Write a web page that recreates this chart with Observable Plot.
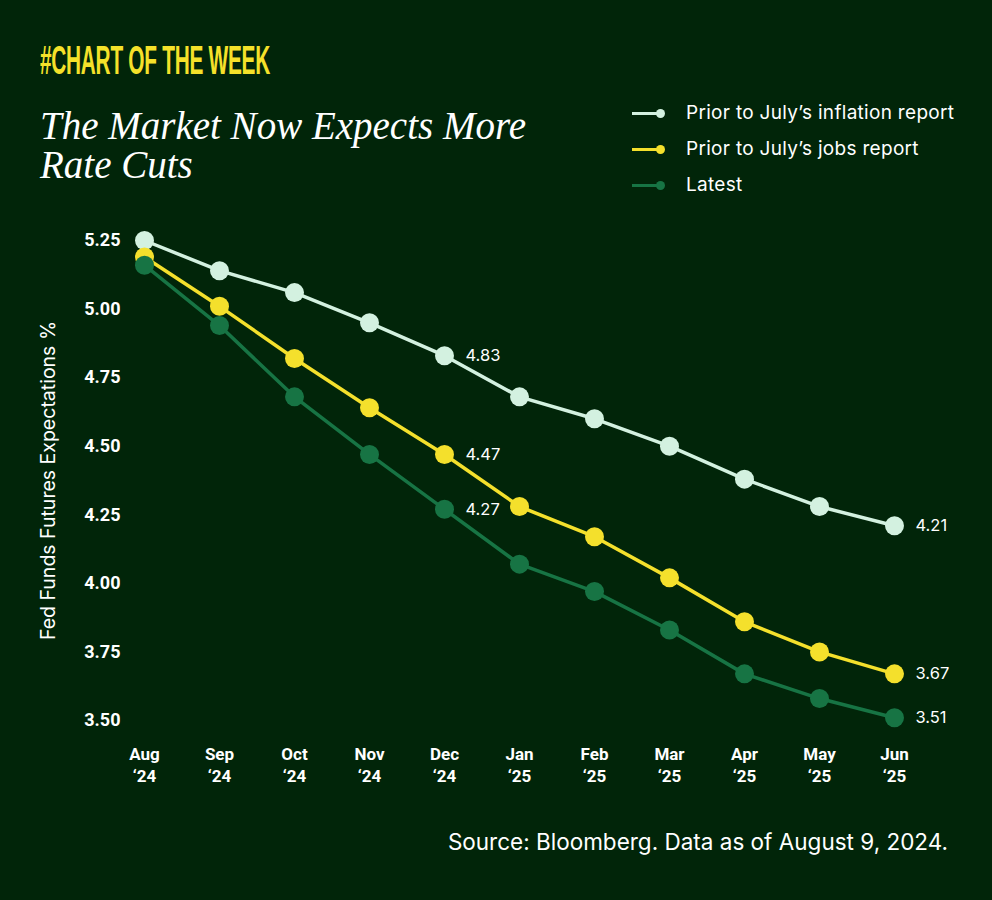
<!DOCTYPE html>
<html>
<head>
<meta charset="utf-8">
<script src="https://cdn.jsdelivr.net/npm/d3@7"></script>
<script src="https://cdn.jsdelivr.net/npm/@observablehq/plot@0.6"></script>
<style>
  html, body { margin: 0; padding: 0; background: #012509; }
  #page { position: relative; width: 992px; height: 900px; background: #012509; overflow: hidden; font-family: Inter, Roboto, "Noto Sans", sans-serif; color: #fff; }
  #header { position: relative; height: 215px; }
  #kicker { position: absolute; left: 40px; top: 40px; font-family: "Liberation Sans Narrow", "Liberation Sans", sans-serif; font-weight: 700; font-size: 40px; line-height: 1; color: #f5e12a; white-space: nowrap; transform-origin: left top; letter-spacing: -0.5px; }
  #title { position: absolute; left: 40px; top: 106px; font-family: "Liberation Serif", "DejaVu Serif", serif; font-style: italic; font-size: 39px; line-height: 39px; color: #fff; }
  #legend { position: absolute; left: 632px; top: 99px; }
  .lg { position: relative; height: 36px; font-size: 19px; line-height: 28px; letter-spacing: 0.3px; }
  .lg .ln { position: absolute; left: 0; top: 13px; width: 28px; height: 3px; }
  .lg .dt { position: absolute; left: 24px; top: 10px; width: 9px; height: 9px; border-radius: 50%; }
  .lg .tx { position: absolute; left: 54px; top: 0; white-space: nowrap; }
  #chart { display: block; }
  #caption { position: absolute; right: 44px; top: 828px; font-size: 22.5px; color: #fff; white-space: nowrap; }
</style>
</head>
<body>
<div id="page">
  <div id="header">
    <div id="kicker">#CHART OF THE WEEK</div>
    <div id="title">The Market Now Expects More<br>Rate Cuts</div>
    <div id="legend"></div>
  </div>
  <div id="chart"></div>
  <div id="caption">Source: Bloomberg. Data as of August 9, 2024.</div>
</div>
<script>
// ---- data ----
const months = ["Aug", "Sep", "Oct", "Nov", "Dec", "Jan", "Feb", "Mar", "Apr", "May", "Jun"];
const years = ["‘24", "‘24", "‘24", "‘24", "‘24", "‘25", "‘25", "‘25", "‘25", "‘25", "‘25"];
const inflationReport = [5.25, 5.14, 5.06, 4.95, 4.83, 4.68, 4.60, 4.50, 4.38, 4.28, 4.21];
const jobsReport = [5.19, 5.01, 4.82, 4.64, 4.47, 4.28, 4.17, 4.02, 3.86, 3.75, 3.67];
const latest = [5.16, 4.94, 4.68, 4.47, 4.27, 4.07, 3.97, 3.83, 3.67, 3.58, 3.51];
const seriesNames = ["Prior to July’s inflation report", "Prior to July’s jobs report", "Latest"];
const seriesColors = ["#d3f1e0", "#f4e02c", "#177444"];
const yTicks = [3.50, 3.75, 4.00, 4.25, 4.50, 4.75, 5.00, 5.25];
const labelMonths = ["Dec", "Jun"];
const yLabel = "Fed Funds Futures Expectations %";

// ---- build ----
const seriesValues = [inflationReport, jobsReport, latest];
const series = seriesNames.map((name, k) => ({
  name, color: seriesColors[k],
  rows: months.map((m, i) => ({ month: m, series: name, value: seriesValues[k][i] }))
}));

// legend
const legend = document.getElementById("legend");
series.forEach(s => {
  const row = document.createElement("div");
  row.className = "lg";
  row.innerHTML = `<div class="ln" style="background:${s.color}"></div><div class="dt" style="background:${s.color}"></div><div class="tx">${s.name}</div>`;
  legend.appendChild(row);
});

// kicker condensed to target width
const kicker = document.getElementById("kicker");
const kw = kicker.getBoundingClientRect().width;
kicker.style.transform = `scaleX(${230 / kw})`;

const marks = [
  Plot.axisY({ ticks: yTicks, tickSize: 0, tickPadding: 20, tickFormat: d => d.toFixed(2), fontFamily: "Roboto, sans-serif", fontSize: 18, fontWeight: 700, label: null }),
  Plot.axisX({ tickSize: 0, tickPadding: 24, tickFormat: (d) => d + "\n" + years[months.indexOf(d)], fontFamily: "Roboto, sans-serif", fontSize: 17, fontWeight: 700, lineHeight: 1.3, label: null }),
  Plot.text([yLabel], { frameAnchor: "left", rotate: -90, dx: -92, textAnchor: "middle", fontSize: 19.5, fill: "#fff" })
];
series.forEach(s => {
  marks.push(Plot.line(s.rows, { x: "month", y: "value", stroke: s.color, strokeWidth: 3.5 }));
  marks.push(Plot.dot(s.rows, { x: "month", y: "value", r: 9.5, fill: s.color, stroke: "none" }));
  marks.push(Plot.text(s.rows.filter(d => labelMonths.includes(d.month)), {
    x: "month", y: "value", text: d => d.value.toFixed(2), dx: 21, textAnchor: "start", fill: "#fff", fontSize: 16.5
  }));
});

const plot = Plot.plot({
  width: 992,
  height: 580,
  marginLeft: 140,
  marginRight: 95,
  marginTop: 25,
  marginBottom: 75,
  style: { background: "transparent", color: "#fff", fontFamily: "Inter, Roboto, sans-serif" },
  x: { type: "point", domain: months, padding: 0, label: null, axis: null },
  y: { domain: [3.5, 5.25], label: null, axis: null },
  marks
});
document.getElementById("chart").appendChild(plot);
</script>
</body>
</html>
